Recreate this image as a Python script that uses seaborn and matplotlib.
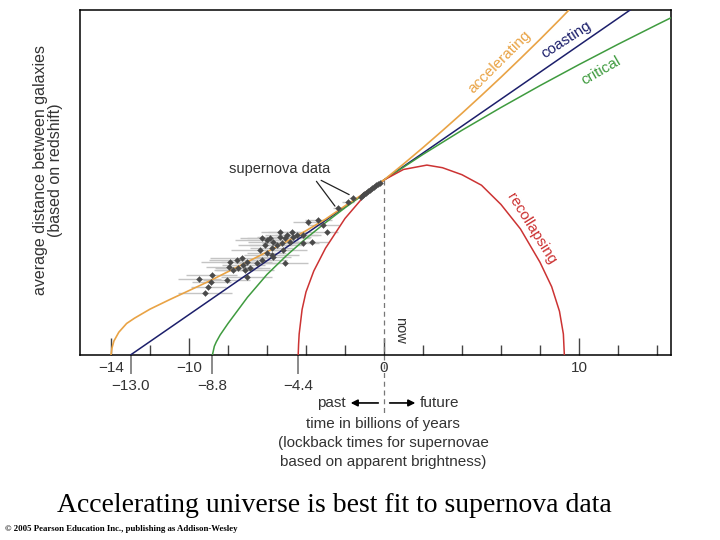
import numpy as np
import matplotlib
matplotlib.use("Agg")
import matplotlib.pyplot as plt
import seaborn as sns

# ── curve data (time in Gyr, relative distance) ──────────────────────────────
coast_t = [-13.0, 13.0, 15.0]
coast_a = [0.0, 2.0, 2.154]

crit_t = [-8.8, -8.7, -8.6, -8.4, -8.0, -7.5, -7.0, -6.0, -5.0, -4.0, -3.0, -2.0,
          -1.0, 0.0, 2.0, 4.0, 6.0, 8.0, 10.0, 12.0, 14.0, 15.0]
crit_a = [0.0, 0.05, 0.075, 0.115, 0.18, 0.255, 0.33, 0.46, 0.568, 0.666, 0.756,
          0.841, 0.922, 1.0, 1.146, 1.284, 1.414, 1.539, 1.659, 1.775, 1.887, 1.942]

accel_t = [-14.0, -13.95, -13.85, -13.6, -13.2, -12.8, -12.0, -11.0, -10.0, -9.0,
           -8.0, -7.0, -6.0, -5.0, -4.0, -3.0, -2.0, -1.0, 0.0, 1.0, 2.0, 3.0,
           4.0, 5.0, 6.0, 7.0, 8.0, 9.0, 10.0]
accel_a = [0.0, 0.04, 0.08, 0.13, 0.18, 0.21, 0.262, 0.316, 0.368, 0.42, 0.476,
           0.532, 0.589, 0.648, 0.71, 0.776, 0.852, 0.925, 1.0, 1.091, 1.185,
           1.282, 1.381, 1.483, 1.587, 1.694, 1.803, 1.915, 2.03]

recol_t = [-4.4, -4.38, -4.35, -4.2, -4.0, -3.6, -3.0, -2.0, -1.0, 0.0, 1.0, 2.2,
           3.0, 4.0, 5.0, 6.0, 7.0, 8.0, 8.6, 9.0, 9.2, 9.25]
recol_a = [0.0, 0.06, 0.12, 0.26, 0.36, 0.48, 0.61, 0.78, 0.91, 1.0, 1.06, 1.085,
           1.07, 1.03, 0.97, 0.86, 0.72, 0.53, 0.39, 0.25, 0.12, 0.0]

# ── supernova points ─────────────────────────────────────────────────────────
sn_t = [-9.47, -8.84, -8.87, -8.07, -9.18, -9.01, -7.90, -7.93, -7.55, -7.30,
        -7.22, -7.04, -6.87, -7.47, -7.13, -6.53, -7.04, -7.73, -6.36, -6.10,
        -6.02, -5.85, -5.68, -5.76, -5.50, -5.33, -5.25, -5.08, -4.99, -4.73,
        -4.65, -4.82, -4.48, -5.16, -5.76, -6.27, -6.02, -5.08, -5.68, -6.27,
        -5.33, -4.14, -3.88, -3.37, -3.11, -2.94, -3.71, -4.14, -2.34, -1.83,
        -1.57, -1.2, -1.1, -1.0, -0.9, -0.8, -0.7, -0.6, -0.5, -0.4, -0.3, -0.2]
sn_a = [0.433, 0.457, 0.419, 0.429, 0.356, 0.390, 0.533, 0.505, 0.543, 0.553,
        0.514, 0.533, 0.495, 0.495, 0.486, 0.524, 0.447, 0.486, 0.600, 0.629,
        0.657, 0.667, 0.647, 0.610, 0.629, 0.676, 0.638, 0.667, 0.686, 0.705,
        0.676, 0.647, 0.686, 0.600, 0.571, 0.543, 0.581, 0.524, 0.562, 0.667,
        0.705, 0.686, 0.762, 0.771, 0.743, 0.705, 0.647, 0.638, 0.838, 0.876,
        0.895, 0.905, 0.915, 0.920, 0.928, 0.935, 0.945, 0.953, 0.962, 0.970,
        0.977, 0.985]
sn_err = [1.1, 1.3, 1.0, 1.2, 1.4, 0.9, 1.5, 1.2, 1.4, 1.6,
          1.1, 1.3, 1.0, 1.2, 1.5, 1.1, 1.3, 1.0, 1.5, 1.4,
          1.6, 1.2, 1.3, 1.1, 1.4, 1.2, 1.0, 1.3, 1.1, 1.2,
          0.9, 1.0, 1.1, 1.2, 1.4, 1.3, 1.0, 1.2, 0.9, 1.1,
          1.0, 0.9, 0.8, 0.7, 0.8, 0.6, 0.9, 0.8, 0.3, 0.3,
          0.2, 0.1, 0.1, 0.1, 0.1, 0.1, 0.1, 0.1, 0.1, 0.1, 0.1, 0.1]

label_ticks = [-14, -10, 0, 10]
label_text = ["\u221214", "\u221210", "0", "10"]
small_ticks = [-12, -8, -6, -4, -2, 2, 4, 6, 8, 12, 14]
age_ticks = [-13.0, -8.8, -4.4]
age_labels = ["\u221213.0", "\u22128.8", "\u22124.4"]

ORANGE = "#e9a345"
NAVY = "#1c1f6b"
GREEN = "#3f9b3f"
RED = "#cc3333"
TXT = "#333333"

sns.set_theme(style="white")
plt.rcParams["font.family"] = ["Liberation Sans", "DejaVu Sans"]

fig = plt.figure(figsize=(7.2, 5.4), dpi=100)
fig.patch.set_facecolor("white")
ax = fig.add_axes([80 / 720, 1 - 355 / 540, 591 / 720, 345 / 540])

ax.errorbar(sn_t, sn_a, xerr=sn_err, fmt="none", ecolor="#c4c4c4", elinewidth=1.0, zorder=1)
sns.lineplot(x=coast_t, y=coast_a, ax=ax, color=NAVY, lw=1.1, sort=False, zorder=3)
sns.lineplot(x=crit_t, y=crit_a, ax=ax, color=GREEN, lw=1.1, sort=False, zorder=3)
sns.lineplot(x=accel_t, y=accel_a, ax=ax, color=ORANGE, lw=1.2, sort=False, zorder=4)
sns.lineplot(x=recol_t, y=recol_a, ax=ax, color=RED, lw=1.1, sort=False, zorder=3)
sns.scatterplot(x=sn_t, y=sn_a, ax=ax, color="#4a4a4a", marker="D", s=9,
                edgecolor="#4a4a4a", linewidth=0.3, zorder=5)

ax.set_xlim(-15.59, 14.72)
ax.set_ylim(0, 1.971)

# "now" line, continues below the axis
ax.plot([0, 0], [1.0, -0.33], color="#777777", lw=0.9, ls=(0, (4, 3)), clip_on=False, zorder=2)
ax.text(0.45, 0.14, "now", rotation=270, ha="left", va="center", fontsize=10.5, color=TXT)

# ticks: labelled (long, inside), plain (short, inside), ages (outside, second row)
ax.set_xticks(label_ticks)
ax.set_xticklabels(label_text)
ax.set_xticks(small_ticks, minor=True)
ax.tick_params(axis="x", which="major", direction="in", length=12, width=1, color="#444444",
               labelsize=11, labelcolor=TXT, pad=4, bottom=True)
ax.tick_params(axis="x", which="minor", direction="in", length=7, width=1, color="#444444",
               bottom=True)
ax.set_yticks([])

sec = ax.secondary_xaxis("bottom")
sec.set_xticks(age_ticks)
sec.set_xticklabels(age_labels)
sec.tick_params(axis="x", direction="out", length=14, width=1.2, color="#777777",
                labelsize=11, labelcolor=TXT, pad=3)
sec.spines["bottom"].set_visible(False)

for s in ax.spines.values():
    s.set_color("black")
    s.set_linewidth(1.1)

ax.set_ylabel("average distance between galaxies\n(based on redshift)", fontsize=11.5,
              color=TXT, linespacing=1.05)
ax.yaxis.set_label_coords(-0.028, 0.535)

# curve labels
ax.text(5.95, 1.675, "accelerating", rotation=45, color=ORANGE, fontsize=11,
        ha="center", va="center", rotation_mode="anchor")
ax.text(9.35, 1.80, "coasting", rotation=33, color=NAVY, fontsize=11,
        ha="center", va="center", rotation_mode="anchor")
ax.text(11.15, 1.625, "critical", rotation=30, color=GREEN, fontsize=11,
        ha="center", va="center", rotation_mode="anchor")
ax.text(7.55, 0.72, "recollapsing", rotation=-58, color=RED, fontsize=11,
        ha="center", va="center", rotation_mode="anchor")

# supernova annotation
ax.text(-5.35, 1.06, "supernova data", fontsize=10.5, color=TXT, ha="center", va="center")
ax.annotate("", xy=(-2.43, 0.838), xytext=(-3.55, 1.005),
            arrowprops=dict(arrowstyle="-", color="#222222", lw=0.9))
ax.annotate("", xy=(-1.66, 0.909), xytext=(-3.35, 1.005),
            arrowprops=dict(arrowstyle="-", color="#222222", lw=0.9))

# past / future arrows
ya = -0.274
ax.annotate("", xy=(-1.85, ya), xytext=(-0.15, ya), annotation_clip=False,
            arrowprops=dict(arrowstyle="-|>", color="black", lw=1.2, mutation_scale=10))
ax.annotate("", xy=(1.75, ya), xytext=(0.15, ya), annotation_clip=False,
            arrowprops=dict(arrowstyle="-|>", color="black", lw=1.2, mutation_scale=10))
ax.text(-1.95, ya, "past", ha="right", va="center", fontsize=11, color=TXT, clip_on=False)
ax.text(1.85, ya, "future", ha="left", va="center", fontsize=11, color=TXT, clip_on=False)

fig.text(383 / 720, 1 - 424 / 540, "time in billions of years", ha="center", va="center",
         fontsize=11, color=TXT)
fig.text(383 / 720, 1 - 443 / 540, "(lockback times for supernovae", ha="center", va="center",
         fontsize=11, color=TXT)
fig.text(383 / 720, 1 - 462 / 540, "based on apparent brightness)", ha="center", va="center",
         fontsize=11, color=TXT)

fig.text(334 / 720, 1 - 506 / 540, "Accelerating universe is best fit to supernova data",
         ha="center", va="center", fontsize=20, color="black", family="Liberation Serif")
fig.text(5 / 720, 1 - 529 / 540,
         "\u00a9 2005 Pearson Education Inc., publishing as Addison-Wesley",
         ha="left", va="center", fontsize=6.3, weight="bold", color="black",
         family="Liberation Serif")

fig.savefig("out.png", dpi=100, facecolor="white")
